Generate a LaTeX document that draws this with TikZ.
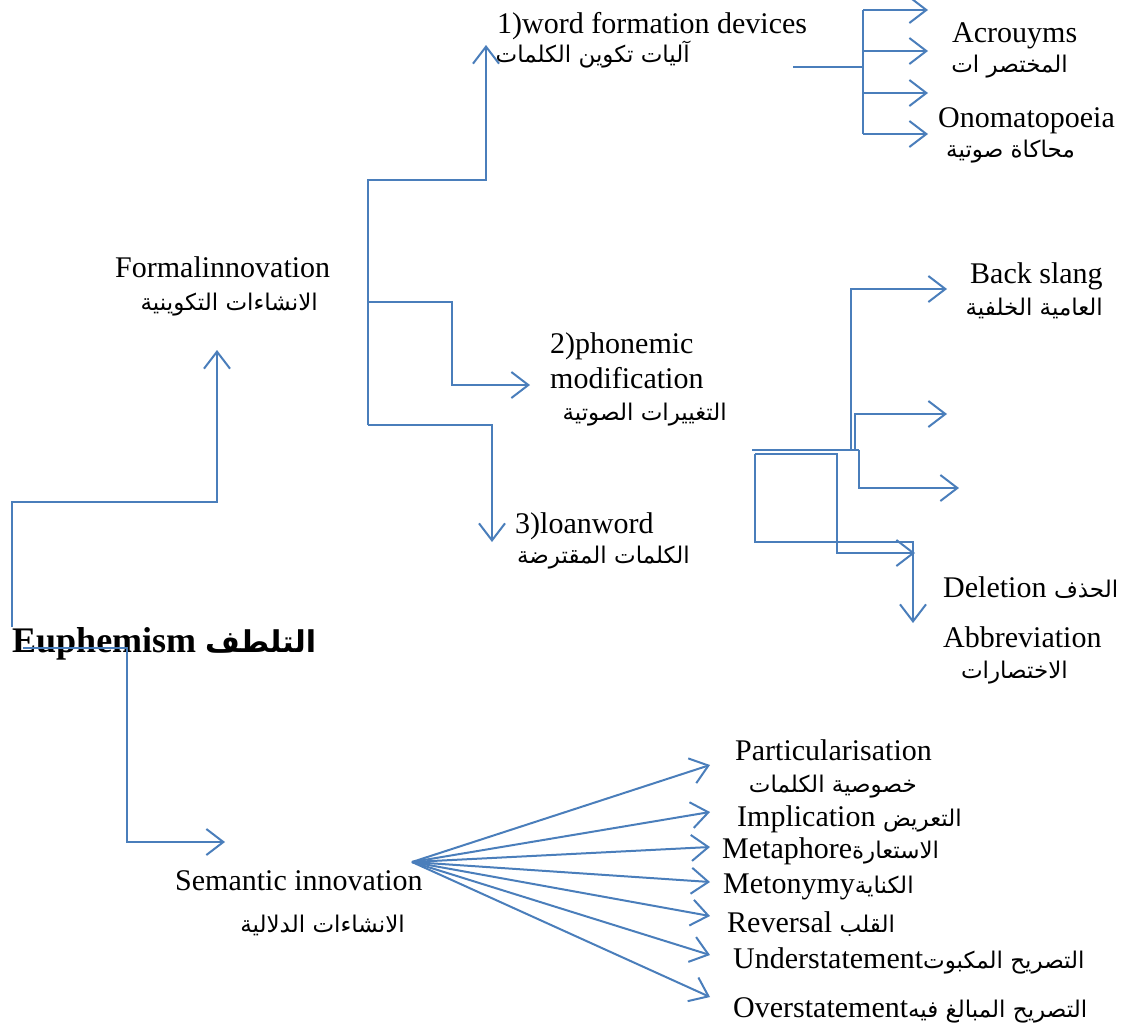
\documentclass[tikz,border=0pt]{standalone}
\usepackage{fontspec}
\setmainfont{Liberation Serif}
\newfontfamily\arabicfont[Script=Arabic]{DejaVu Sans}
\TeXXeTstate=1
\usetikzlibrary{arrows.meta}
\definecolor{linkblue}{RGB}{74,126,187}
\newcommand{\artxt}[1]{{\arabicfont\fontsize{23}{27}\selectfont\beginR #1\endR}}
\newcommand{\artxtb}[1]{{\arabicfont\bfseries\fontsize{30}{34}\selectfont\beginR #1\endR}}

\begin{document}
\begin{tikzpicture}[x=1pt,y=-1pt]
                        \tikzstyle{link}=[draw=linkblue, line width=2pt]
                        \tikzstyle{tip}=[link, -{Straight Barb[length=17pt,width=26pt]}]
                        \tikzstyle{label}=[inner sep=0pt, anchor=base west, font=\fontsize{30}{35}\selectfont]
                        \tikzstyle{arlabel}=[inner sep=0pt, anchor=base east]
                        \useasboundingbox (0,0) rectangle (1129,1029);
                        \node[label, font=\bfseries\fontsize{36}{40}\selectfont] (euph) at (12,652) {Euphemism \artxtb{التلطف}};
                        \node[label] (formal) at (115,277) {Formalinnovation};
                        \node[arlabel] (formal-ar) at (318,310) {\artxt{الانشاءات التكوينية}};
                        \node[label] (wfd) at (497,33) {1)word formation devices};
                        \node[arlabel] (wfd-ar) at (690,62) {\artxt{آليات تكوين الكلمات}};
                        \node[label] (acro) at (952,42) {Acrouyms};
                        \node[arlabel] (acro-ar) at (1068,72) {\artxt{المختصر ات}};
                        \node[label] (onom) at (938,127) {Onomatopoeia};
                        \node[arlabel] (onom-ar) at (1075,157) {\artxt{محاكاة صوتية}};
                        \node[label] (phon) at (550,353) {2)phonemic};
                        \node[label] (phon-b) at (550,388) {modification};
                        \node[arlabel] (phon-ar) at (727,420) {\artxt{التغييرات الصوتية}};
                        \node[label] (loan) at (515,533) {3)loanword};
                        \node[arlabel] (loan-ar) at (690,563) {\artxt{الكلمات المقترضة}};
                        \node[label] (back) at (970,283) {Back slang};
                        \node[arlabel] (back-ar) at (1103,315) {\artxt{العامية الخلفية}};
                        \node[label] (dele) at (943,597) {Deletion \artxt{الحذف}};
                        \node[label] (abbr) at (943,647) {Abbreviation};
                        \node[arlabel] (abbr-ar) at (1068,678) {\artxt{الاختصارات}};
                        \node[label] (sem) at (175,890) {Semantic innovation};
                        \node[arlabel] (sem-ar) at (405,932) {\artxt{الانشاءات الدلالية}};
                        \node[label] (part) at (735,760) {Particularisation};
                        \node[arlabel] (part-ar) at (917,792) {\artxt{خصوصية الكلمات}};
                        \node[label] (impl) at (737,826) {Implication \artxt{التعريض}};
                        \node[label] (meta) at (722,858) {Metaphore\artxt{الاستعارة}};
                        \node[label] (meto) at (723,893) {Metonymy\artxt{الكناية}};
                        \node[label] (reve) at (727,932) {Reversal \artxt{القلب}};
                        \node[label] (unde) at (733,968) {Understatement\artxt{التصريح المكبوت}};
                        \node[label] (over) at (733,1017) {Overstatement\artxt{التصريح المبالغ فيه}};
                        \coordinate (trunk-low) at (12,627);
                        \coordinate (trunk-top) at (12,502);
                        \coordinate (formal-tip) at (217,350);
                        \draw[tip] (trunk-low) -- (trunk-top) -| (formal-tip);
                        \coordinate (sem-start) at (23,648);
                        \coordinate (sem-bend) at (127,648);
                        \coordinate (sem-tip) at (225,842);
                        \draw[tip] (sem-start) -- (sem-bend) |- (sem-tip);
                        \coordinate (fi-top) at (368,180);
                        \coordinate (fi-mid) at (368,302);
                        \coordinate (fi-low) at (368,425);
                        \coordinate (wfd-tip) at (486,45);
                        \coordinate (phon-bend) at (452,302);
                        \coordinate (phon-tip) at (530,385);
                        \coordinate (loan-tip) at (492,542);
                        \draw[tip] (fi-low) -- (fi-top) -| (wfd-tip);
                        \draw[tip] (fi-mid) -- (phon-bend) |- (phon-tip);
                        \draw[tip] (fi-low) -| (loan-tip);
                        \coordinate (wfd-out) at (793,67);
                        \coordinate (wfd-hub) at (863,67);
                        \draw[link] (wfd-out) -- (wfd-hub);
                        \draw[link] (863,10) -- (863,134);
                        \foreach \y [count=\i] in {10,51,93,134} {
                            \coordinate (wb\i) at (863,\y);
                            \coordinate (wt\i) at (928,\y);
                            \draw[tip] (wb\i) -- (wt\i);
                        }
                        \coordinate (pm-out) at (752,450);
                        \coordinate (pm-hub) at (859,450);
                        \draw[link] (pm-out) -- (pm-hub);
                        \coordinate (back-tip) at (947,289);
                        \coordinate (mid-tip) at (947,414);
                        \coordinate (low-tip) at (959,488);
                        \draw[tip] (851,450) |- (back-tip);
                        \draw[tip] (855,450) |- (mid-tip);
                        \draw[tip] (859,450) |- (low-tip);
                        \coordinate (box-a) at (755,454);
                        \coordinate (box-b) at (837,454);
                        \coordinate (dele-tip) at (915,553);
                        \coordinate (abbr-tip) at (913,623);
                        \draw[tip] (box-a) -- (box-b) |- (dele-tip);
                        \draw[tip] (box-a) |- (913,542) -- (abbr-tip);
                        \coordinate (sem-src) at (412,862);
                        \foreach \y [count=\i] in {765,812,847,882,916,955,997} {
                            \coordinate (st\i) at (710,\y);
                            \draw[tip] (sem-src) -- (st\i);
                        }
                    \end{tikzpicture}
\end{document}
